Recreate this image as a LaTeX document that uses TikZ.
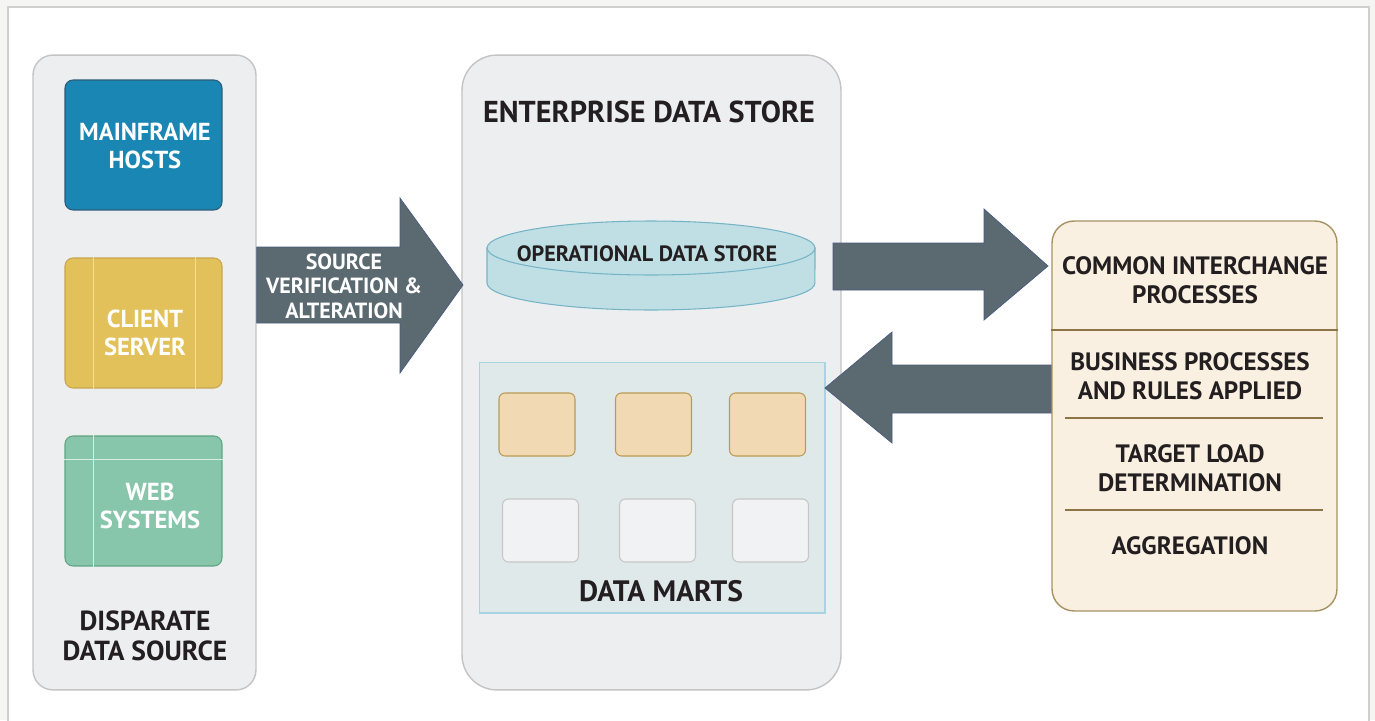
\documentclass[tikz,border=0pt]{standalone}
\usepackage{fontspec}
\setmainfont{PT Sans}
\usetikzlibrary{calc}

\definecolor{pagebg}{HTML}{F5F5F3}
\definecolor{framegray}{HTML}{D0D0D0}
\definecolor{panelfill}{HTML}{EDEEF0}
\definecolor{paneldraw}{HTML}{C4C4C4}
\definecolor{mainfill}{HTML}{1A86B3}
\definecolor{maindraw}{HTML}{2B5C7A}
\definecolor{clientfill}{HTML}{E3C15A}
\definecolor{clientdraw}{HTML}{C8A550}
\definecolor{clientline}{HTML}{F7DE8A}
\definecolor{webfill}{HTML}{88C6AB}
\definecolor{webdraw}{HTML}{5FA583}
\definecolor{webline}{HTML}{D6EFE2}
\definecolor{arrowfill}{HTML}{5A6A70}
\definecolor{arrowdraw}{HTML}{4A5A80}
\definecolor{odsfill}{HTML}{C0DFE4}
\definecolor{odsdraw}{HTML}{74B4C6}
\definecolor{martfill}{HTML}{E0E9EA}
\definecolor{martdraw}{HTML}{A9D3E0}
\definecolor{tanfill}{HTML}{F0D9B3}
\definecolor{tandraw}{HTML}{B99B55}
\definecolor{greyfill}{HTML}{F1F2F4}
\definecolor{greydraw}{HTML}{C6C6C6}
\definecolor{procfill}{HTML}{F9F0E2}
\definecolor{procdraw}{HTML}{A89263}
\definecolor{procline}{HTML}{8C7444}
\definecolor{txtdark}{HTML}{231F20}

\tikzset{
  panel/.style={rectangle, draw=paneldraw, fill=panelfill, line width=0.8pt},
  srcbox/.style={rectangle, rounded corners=0.16cm, line width=0.6pt,
    minimum width=3.14cm, minimum height=2.6cm},
  martbox/.style={rectangle, rounded corners=0.12cm, line width=0.6pt,
    minimum width=1.52cm, minimum height=1.26cm},
  label/.style={font=\bfseries, text=txtdark, align=center, inner sep=0pt},
  whitelabel/.style={label, text=white},
  bigarrow/.style={fill=arrowfill, draw=arrowdraw, line width=0.4pt},
  divider/.style={draw=procline, line width=1pt}
}

\begin{document}
\begin{tikzpicture}[x=0.02cm, y=-0.02cm]
  \useasboundingbox (0,0) rectangle (1375,720);
  % Frame
  \fill[pagebg] (0,0) rectangle (1375,720);
  \filldraw[fill=white, draw=framegray, line width=0.8pt] (8,7) rectangle (1369,740);

  % Left panel: sources
  \node[panel, rounded corners=0.4cm, minimum width=4.46cm, minimum height=12.7cm] (src) at (144.5,372.5) {};
  \node[srcbox, fill=mainfill, draw=maindraw] (mainframe) at (143.5,145) {};
  \node[srcbox, fill=clientfill, draw=clientdraw] (client) at (143.5,323) {};
  \node[srcbox, fill=webfill, draw=webdraw] (web) at (143.5,501) {};
  \draw[clientline, line width=1pt] ($(client.north west)+(29,0)$) -- ($(client.south west)+(29,0)$);
  \draw[clientline, line width=1pt] ($(client.north east)+(-27,0)$) -- ($(client.south east)+(-27,0)$);
  \draw[webline, line width=1pt] ($(web.north west)+(0,24)$) -- ($(web.north east)+(0,24)$);
  \draw[webline, line width=1pt] ($(web.north west)+(29,0)$) -- ($(web.south west)+(29,0)$);
  \node[whitelabel, font=\bfseries\fontsize{14}{15.8}\selectfont] (mainframetxt) at (145,146) {MAINFRAME\\HOSTS};
  \node[whitelabel, font=\bfseries\fontsize{14}{15.8}\selectfont] (clienttxt) at (145,333) {CLIENT\\SERVER};
  \node[whitelabel, font=\bfseries\fontsize{14}{15.8}\selectfont] (webtxt) at (150,506) {WEB\\SYSTEMS};
  \node[label, font=\bfseries\fontsize{15.7}{17.3}\selectfont] (srctxt) at (145,636) {DISPARATE\\DATA SOURCE};

  % Middle panel: enterprise data store
  \node[panel, rounded corners=0.7cm, minimum width=7.58cm, minimum height=12.7cm] (edw) at (651.5,372.5) {};
  \node[label, font=\bfseries\fontsize{17.2}{19}\selectfont] (edwtxt) at (649,112) {ENTERPRISE DATA STORE};
  \coordinate (ods) at (651,248);
  \filldraw[fill=odsfill, draw=odsdraw, line width=0.6pt]
    ($(ods)+(-164,0)$) -- ($(ods)+(-164,35)$) arc[start angle=180, end angle=360, x radius=3.28cm, y radius=0.54cm]
    -- ($(ods)+(164,0)$) -- cycle;
  \filldraw[fill=odsfill, draw=odsdraw, line width=0.6pt] (ods) ellipse[x radius=3.28cm, y radius=0.54cm];
  \node[label, font=\bfseries\fontsize{12.6}{14}\selectfont] (odstxt) at (647,254) {OPERATIONAL DATA STORE};

  \node[rectangle, fill=martfill, draw=martdraw, line width=0.6pt, minimum width=6.92cm, minimum height=5.02cm] (marts) at (652,487.5) {};
  \foreach \x [count=\i] in {537,653.5,767.5}
    \node[martbox, fill=tanfill, draw=tandraw] (tan\i) at (\x,424.5) {};
  \foreach \x [count=\i] in {540.5,657.5,770.5}
    \node[martbox, fill=greyfill, draw=greydraw] (grey\i) at (\x,530.5) {};
  \node[label, font=\bfseries\fontsize{16.8}{18}\selectfont] (martstxt) at (661,591) {DATA MARTS};

  % Block arrows
  \draw[bigarrow] (src.east |- 0,247) -- (400,247) -- (400,198) -- (463,285) -- (400,373) -- (400,323) -- (src.east |- 0,323) -- cycle;
  \node[whitelabel, font=\bfseries\fontsize{12.5}{14}\selectfont] (verifytxt) at (344,286) {SOURCE\\VERIFICATION \&\\ALTERATION};
  \draw[bigarrow] (833,243) -- (984,243) -- (984,209) -- (1048,266) -- (984,320) -- (984,290) -- (833,290) -- cycle;
  \draw[bigarrow] (1054,365) -- (892,365) -- (892,332) -- (825,388) -- (892,443) -- (892,413) -- (1054,413) -- cycle;

  % Right panel: processes
  \node[rectangle, rounded corners=0.44cm, fill=procfill, draw=procdraw, line width=0.8pt, minimum width=5.7cm, minimum height=7.8cm] (proc) at (1194.5,416) {};
  \draw[divider] (proc.west |- 0,330) -- (proc.east |- 0,330);
  \draw[divider] (1065,418) -- (1323,418);
  \draw[divider] (1065,510) -- (1323,510);
  \node[label, font=\bfseries\fontsize{14.3}{16.3}\selectfont] (commontxt) at (1195,280) {COMMON INTERCHANGE\\PROCESSES};
  \node[label, font=\bfseries\fontsize{14.3}{16.3}\selectfont] (rulestxt) at (1190,376) {BUSINESS PROCESSES\\AND RULES APPLIED};
  \node[label, font=\bfseries\fontsize{14.3}{16.3}\selectfont] (targettxt) at (1190,468) {TARGET LOAD\\DETERMINATION};
  \node[label, font=\bfseries\fontsize{14.3}{16.3}\selectfont] (aggtxt) at (1190,546) {AGGREGATION};
\end{tikzpicture}
\end{document}
